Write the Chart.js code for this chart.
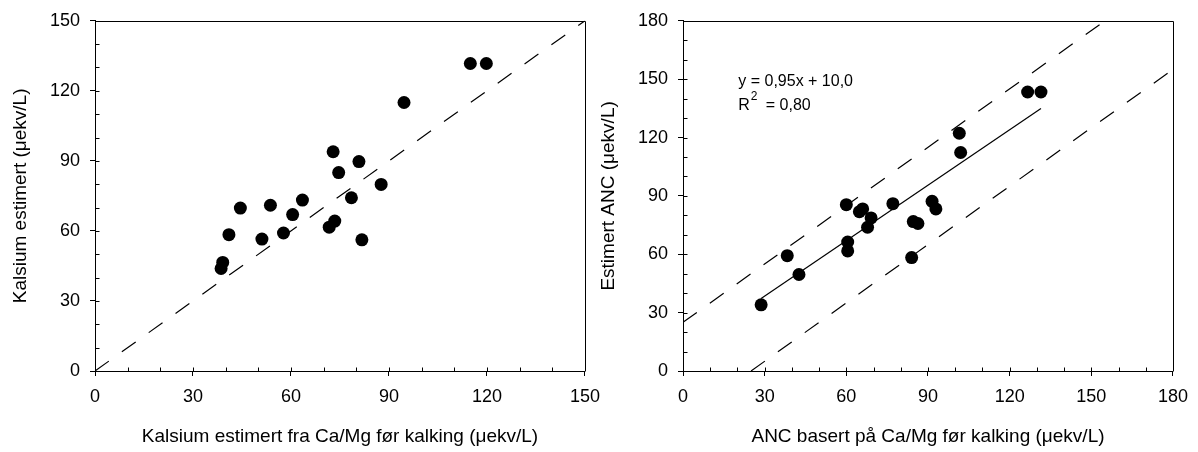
<!DOCTYPE html>
<html>
<head>
<meta charset="utf-8">
<script src="https://cdn.jsdelivr.net/npm/chart.js@4.4.0/dist/chart.umd.min.js"></script>
<style>
  html, body { margin: 0; padding: 0; background: #fff; }
  body { width: 1198px; height: 452px; position: relative; overflow: hidden; }
  canvas { position: absolute; top: 0; }
  #left { left: 0; }
  #right { left: 588px; }
</style>
</head>
<body>
<canvas id="left" width="610" height="452"></canvas>
<canvas id="right" width="610" height="452"></canvas>
<script>
// left panel: Kalsium
const caFraCaMg = [114.9, 119.8, 94.6, 72.9, 80.8, 74.6, 87.6, 78.5, 63.5, 44.5, 53.7, 60.5, 73.4, 71.7, 57.7, 41.0, 51.1, 81.7, 39.1, 38.6];
const caEstimert = [131.7, 131.7, 115.0, 93.9, 89.7, 85.0, 79.9, 74.2, 73.2, 69.8, 71.0, 67.0, 64.2, 61.6, 59.1, 58.4, 56.5, 56.2, 46.5, 43.9];
const oneToOneX = [0, 150];
const oneToOneY = [0, 150];

// right panel: ANC
const ancCaMg = [126.6, 131.5, 101.5, 102.0, 60.0, 77.1, 66.0, 64.8, 69.1, 67.8, 91.5, 92.9, 84.6, 86.3, 60.5, 60.5, 38.3, 42.6, 84.0, 28.7];
const ancEstimert = [143.4, 143.4, 122.2, 112.3, 85.5, 86.0, 83.3, 81.9, 78.7, 73.9, 87.2, 83.3, 76.8, 75.8, 66.3, 61.7, 59.3, 49.6, 58.3, 34.0];
const regX = [28.7, 131.5];
const regY = [37.3, 134.9];
const upperX = [0, 155];
const upperY = [25, 180];
const lowerX = [25, 180];
const lowerY = [0, 155];

const FONT = "'Liberation Sans', Arial, sans-serif";

function pts(xs, ys) {
  return xs.map((x, i) => ({ x: x, y: ys[i] }));
}

function lineSet(xs, ys, dash) {
  return {
    type: "line",
    data: pts(xs, ys),
    borderColor: "#000",
    borderWidth: 1.2,
    borderDash: dash,
    pointRadius: 0,
    showLine: true,
    fill: false,
  };
}

// box round the plot plus the small inward ticks
const frame = {
  id: "frame",
  afterDraw(chart) {
    const { ctx, chartArea: a, scales } = chart;
    const x = scales.x, y = scales.y;
    const al = (v) => Math.round(v) + 0.5;
    ctx.save();
    ctx.strokeStyle = "#000";
    ctx.lineWidth = 1;
    ctx.beginPath();
    ctx.moveTo(al(a.left), al(a.top));
    ctx.lineTo(al(a.right), al(a.top));
    ctx.lineTo(al(a.right), al(a.bottom));
    for (let v = x.min + 10; v < x.max; v += 10) {
      const px = al(x.getPixelForValue(v));
      ctx.moveTo(px, al(a.bottom));
      ctx.lineTo(px, al(a.bottom) - 4);
    }
    for (let v = y.min + 10; v < y.max; v += 10) {
      const py = al(y.getPixelForValue(v));
      ctx.moveTo(al(a.left), py);
      ctx.lineTo(al(a.left) + 4, py);
    }
    ctx.stroke();
    ctx.restore();
  },
};

function axis(max, title, isX) {
  return {
    type: "linear",
    min: 0,
    max: max,
    border: { display: true, color: "#000", width: 1 },
    grid: {
      drawOnChartArea: false,
      drawTicks: true,
      tickLength: 5,
      tickWidth: 1,
      tickColor: (c) => (c.tick && c.tick.value % 30 === 0 ? "#000" : "rgba(0,0,0,0)"),
    },
    ticks: {
      stepSize: 10,
      autoSkip: false,
      maxRotation: 0,
      padding: 10,
      color: "#000",
      font: { family: FONT, size: 18 },
      callback: (v) => (v % 30 === 0 ? v : ""),
    },
    title: {
      display: true,
      text: title,
      color: "#000",
      font: { family: FONT, size: 19 },
      padding: isX ? { top: 0, bottom: 4 } : { top: 9, bottom: 0 },
    },
    afterFit: (s) => {
      if (isX) s.height = 81;
      else s.width = 95;
    },
  };
}

function baseOptions(max, xTitle, yTitle) {
  return {
    responsive: false,
    animation: false,
    layout: { padding: { top: 18, right: 25, left: 0, bottom: 0 } },
    plugins: { legend: { display: false }, tooltip: { enabled: false } },
    scales: {
      x: axis(max, xTitle, true),
      y: axis(max, yTitle, false),
    },
  };
}

new Chart(document.getElementById("left").getContext("2d"), {
  type: "scatter",
  data: {
    datasets: [
      lineSet(oneToOneX, oneToOneY, [17, 16]),
      {
        data: pts(caFraCaMg, caEstimert),
        backgroundColor: "#000",
        borderWidth: 0,
        pointRadius: 6.5,
      },
    ],
  },
  options: baseOptions(150, "Kalsium estimert fra Ca/Mg før kalking (μekv/L)", "Kalsium estimert (μekv/L)"),
  plugins: [frame],
});

// regression text in the right panel
const equation = {
  id: "equation",
  afterDraw(chart) {
    const { ctx, scales } = chart;
    const x0 = scales.x.getPixelForValue(20.3);
    const y1 = scales.y.getPixelForValue(146.7);
    const y2 = scales.y.getPixelForValue(133.9);
    ctx.save();
    ctx.fillStyle = "#000";
    ctx.textBaseline = "alphabetic";
    ctx.font = "16px " + FONT;
    ctx.fillText("y = 0,95x + 10,0", x0, y1);
    ctx.fillText("R", x0, y2);
    const rw = ctx.measureText("R").width;
    ctx.font = "12px " + FONT;
    ctx.fillText("2", x0 + rw + 1, y2 - 10);
    ctx.font = "16px " + FONT;
    ctx.fillText("= 0,80", x0 + rw + 16, y2);
    ctx.restore();
  },
};

new Chart(document.getElementById("right").getContext("2d"), {
  type: "scatter",
  data: {
    datasets: [
      lineSet(upperX, upperY, [17, 16]),
      lineSet(lowerX, lowerY, [17, 16]),
      lineSet(regX, regY, []),
      {
        data: pts(ancCaMg, ancEstimert),
        backgroundColor: "#000",
        borderWidth: 0,
        pointRadius: 6.5,
      },
    ],
  },
  options: baseOptions(180, "ANC basert på Ca/Mg før kalking (μekv/L)", "Estimert ANC (μekv/L)"),
  plugins: [frame, equation],
});
</script>
</body>
</html>
